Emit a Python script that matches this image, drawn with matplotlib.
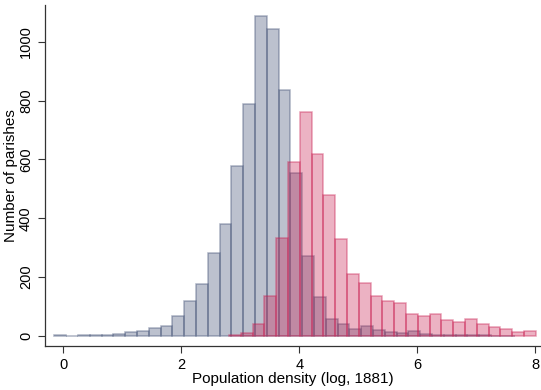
#!/usr/bin/env python3

import numpy as np
import matplotlib
matplotlib.use("Agg")
import matplotlib.pyplot as plt

plt.rcParams['font.family'] = ['Liberation Sans', 'DejaVu Sans']

# histogram 1 (grey): bins of width 0.2 starting at -0.15
grey_start = -0.15
grey_width = 0.2
grey_counts = [2, 0, 2, 3, 2, 5, 12, 17, 26, 34, 69, 118, 175, 283, 380, 577,
               788, 1089, 1044, 836, 555, 272, 134, 57, 40, 24, 35, 20, 14, 10,
               16, 5, 4, 2, 2, 2, 2, 1, 1]

# histogram 2 (pink): bins of width 0.2 starting at 2.81
pink_start = 2.81
pink_width = 0.2
pink_counts = [3, 9, 41, 136, 334, 590, 762, 620, 480, 328, 211, 179, 137, 120,
               113, 74, 67, 75, 54, 49, 57, 41, 30, 24, 13, 17]

x_ticks = [0, 2, 4, 6, 8]
y_ticks = [0, 200, 400, 600, 800, 1000]


def main():
    fig = plt.figure(figsize=(5.41, 3.90), dpi=100)
    ax = fig.add_axes([0.083, 0.113, 0.915, 0.875])

    grey_left = grey_start + grey_width * np.arange(len(grey_counts))
    pink_left = pink_start + pink_width * np.arange(len(pink_counts))

    ax.bar(grey_left, grey_counts, width=grey_width, align='edge',
           color=(70/255, 85/255, 120/255, 0.36),
           edgecolor=(70/255, 85/255, 120/255, 0.45), linewidth=1.1)
    ax.bar(pink_left, pink_counts, width=pink_width, align='edge',
           color=(200/255, 30/255, 80/255, 0.34),
           edgecolor=(200/255, 30/255, 80/255, 0.42), linewidth=1.1)

    ax.set_xlim(-0.31, 8.08)
    ax.set_ylim(-34, 1126)
    ax.set_xticks(x_ticks)
    ax.set_yticks(y_ticks)
    ax.set_yticklabels([str(v) for v in y_ticks], rotation=90, va='center')

    for s in ['top', 'right']:
        ax.spines[s].set_visible(False)
    for s in ['left', 'bottom']:
        ax.spines[s].set_color('#333333')
        ax.spines[s].set_linewidth(0.9)
    ax.tick_params(direction='out', length=5, width=0.8, colors='#333333',
                   labelcolor='black', labelsize=10.5)

    ax.set_xlabel('Population density (log, 1881)', fontsize=11, labelpad=0)
    ax.set_ylabel('Number of parishes', fontsize=11)
    ax.yaxis.set_label_coords(-0.055, 0.5)

    fig.savefig('out.png', dpi=100)


if __name__ == "__main__":
    main()
